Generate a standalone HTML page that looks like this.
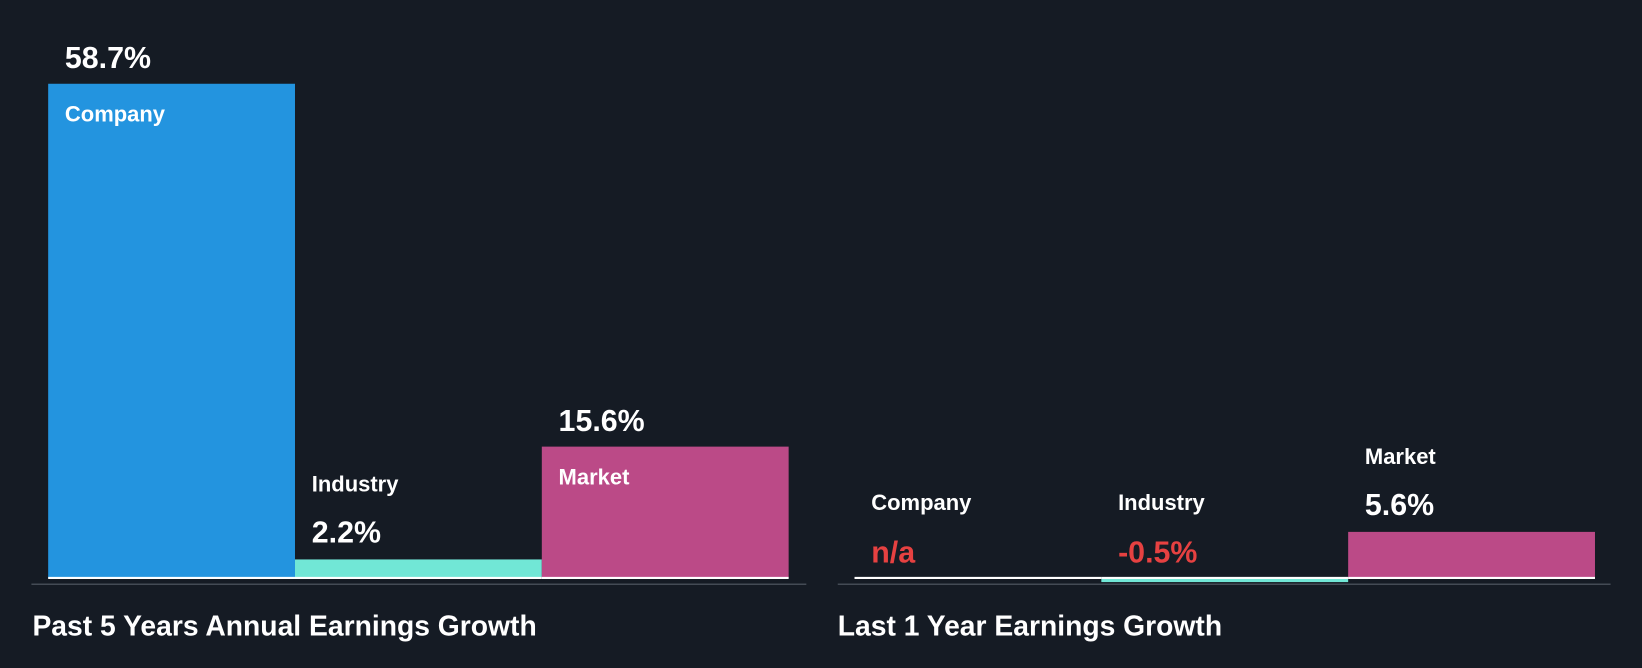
<!DOCTYPE html>
<html><head><meta charset="utf-8"><style>
body{margin:0;background:#151b24;}
svg{display:block;font-family:"Liberation Sans",sans-serif;font-weight:bold;}
</style></head><body>
<svg width="1642" height="668" viewBox="0 0 1568 638" preserveAspectRatio="none">
<rect width="1568" height="638" fill="#151b24"/>
<g id="left"></g>
<g id="right"></g>
<line x1="30" y1="558" x2="770" y2="558" stroke="#444b55" stroke-width="1.5"/>
<line x1="800" y1="558" x2="1538" y2="558" stroke="#444b55" stroke-width="1.5"/>
<text x="31" y="607" fill="#fff" font-size="27">Past 5 Years Annual Earnings Growth</text>
<text x="800" y="607" fill="#fff" font-size="27">Last 1 Year Earnings Growth</text>
</svg>
<script>
const categories=["Company","Industry","Market"];
const fiveYearValues=[58.7,2.2,15.6];
const fiveYearLabels=["58.7%","2.2%","15.6%"];
const oneYearValues=[null,-0.5,5.6];
const oneYearLabels=["n/a","-0.5%","5.6%"];
const colors=["#2394df","#71e7d6","#bb4a87"];
const NS="http://www.w3.org/2000/svg";
function mk(t,a,p){const e=document.createElementNS(NS,t);for(const k in a)e.setAttribute(k,a[k]);p.appendChild(e);return e;}
function txt(p,x,y,s,size,fill,name){const t=mk("text",{x:x,y:y,"font-size":size,fill:fill},p);t.textContent=s;

return t;}
function panel(id,x0,vals,labels,pxPer,key){
 const g=document.getElementById(id);const base=552,w=235.7;
 const y=v=>base-v*pxPer;
 vals.forEach((v,i)=>{
  const x=x0+i*w;const cat=categories[i].toLowerCase();
  if(v!==null){
   const top=Math.min(y(v),base),h=Math.max(Math.abs(y(v)-base),0);
   const r=mk("rect",{x:x,y:top,width:w,height:h,fill:colors[i]},g);
   
   
  }
  const bl=mk("line",{x1:x,y1:base,x2:x+w,y2:base,stroke:"#fff","stroke-width":2},g);
  
  
  const isNum=v!==null;const valCol=(v===null||v<0)?"#e64141":"#fff";
  const tall=isNum&&v>0&&(base-y(v))>60;
  if(tall){
   const t=y(v);
   txt(g,x+16,t-15,labels[i],29,valCol,key+'-value-'+cat);
   txt(g,x+16,t+36,categories[i],21,"#fff",key+'-label-'+cat);
  }else if(isNum&&v>0){
   const t=y(v);
   txt(g,x+16,t-16,labels[i],29,valCol,key+'-value-'+cat);
   txt(g,x+16,t-65,categories[i],21,"#fff",key+'-label-'+cat);
  }else{
   const t=Math.min(y(v||0),base);
   txt(g,x+16,t-15,labels[i],29,valCol,key+'-value-'+cat);
   txt(g,x+16,t-65,categories[i],21,"#fff",key+'-label-'+cat);
  }
 });
}
panel("left",46,fiveYearValues,fiveYearLabels,472/58.7,"five-year");
panel("right",816,oneYearValues,oneYearLabels,44/5.6,"one-year");
</script>
</body></html>
